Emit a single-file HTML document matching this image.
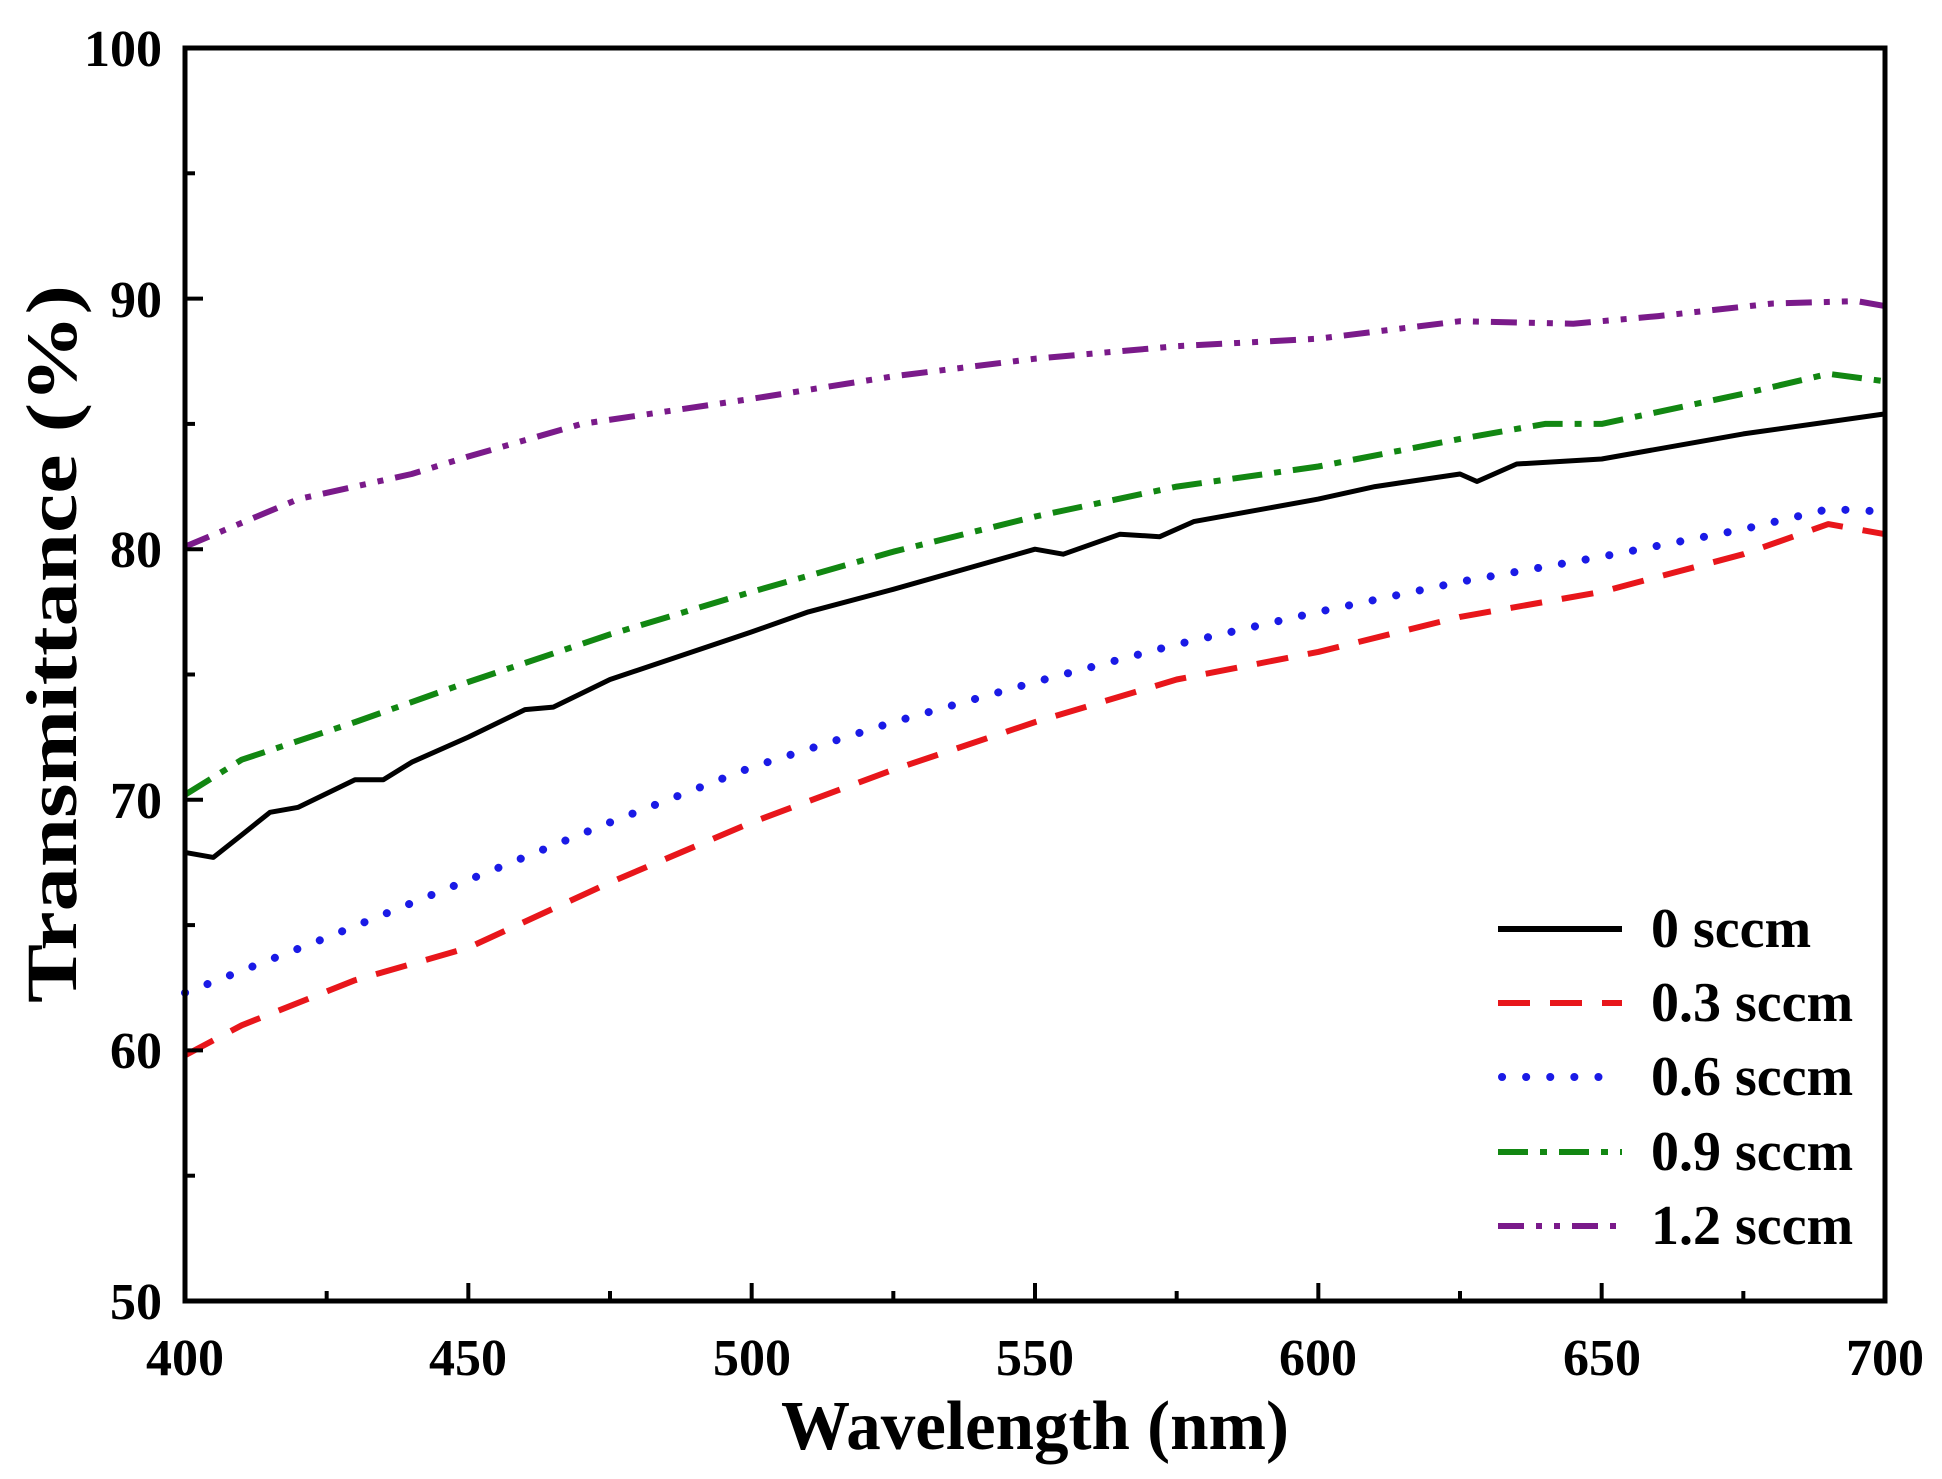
<!DOCTYPE html>
<html><head><meta charset="utf-8"><style>
html,body{margin:0;padding:0;background:#fff;}
svg{display:block;}
text{font-family:"Liberation Serif",serif;font-weight:bold;fill:#000;}
</style></head><body>
<svg id="s" width="1942" height="1479" viewBox="0 0 1942 1479" xmlns="http://www.w3.org/2000/svg">
<g id="curves"></g>
<rect x="185" y="48" width="1700" height="1253" fill="none" stroke="#000" stroke-width="5"/>
<g id="ticks" stroke="#000" stroke-width="4"></g>
<g font-size="52" text-anchor="end">
<text x="162" y="1319">50</text><text x="162" y="1068">60</text><text x="162" y="818">70</text>
<text x="162" y="567">80</text><text x="162" y="317">90</text><text x="162" y="66">100</text>
</g>
<g font-size="52" text-anchor="middle">
<text x="185" y="1375">400</text><text x="468" y="1375">450</text><text x="752" y="1375">500</text>
<text x="1035" y="1375">550</text><text x="1318" y="1375">600</text><text x="1602" y="1375">650</text><text x="1885" y="1375">700</text>
</g>
<text x="781" y="1449" font-size="70" textLength="508" lengthAdjust="spacingAndGlyphs">Wavelength (nm)</text>
<text transform="translate(76,644) rotate(-90)" x="-359" font-size="72" textLength="718" lengthAdjust="spacingAndGlyphs">Transmittance (%)</text>
<g stroke-width="6" fill="none">
<line x1="1498" y1="929" x2="1622" y2="929" stroke="#000"/>
<line x1="1498" y1="1003" x2="1622" y2="1003" stroke="#e8161b" stroke-dasharray="32,20"/>
<line x1="1502" y1="1077" x2="1622" y2="1077" stroke="#1a1ae6" stroke-width="8" stroke-linecap="round" stroke-dasharray="0.1,24"/>
<line x1="1498" y1="1152" x2="1622" y2="1152" stroke="#128712" stroke-dasharray="30,12,7,12"/>
<line x1="1498" y1="1226" x2="1622" y2="1226" stroke="#7a1a8a" stroke-dasharray="26,12,6,12,6,12"/>
</g>
<g font-size="56">
<text x="1651" y="947">0 sccm</text><text x="1651" y="1021">0.3 sccm</text>
<text x="1651" y="1095">0.6 sccm</text><text x="1651" y="1170">0.9 sccm</text>
<text x="1651" y="1244">1.2 sccm</text>
</g>
</svg>
<script>
const X=w=>185+(w-400)*1700/300, Y=v=>1301-(v-50)*25.06;
const ns="http://www.w3.org/2000/svg";
const tk=document.getElementById('ticks');
for(let w=425;w<700;w+=25){const l=document.createElementNS(ns,'line');const x=X(w);l.setAttribute('x1',x);l.setAttribute('x2',x);l.setAttribute('y1',1301);l.setAttribute('y2',1301-(w%50?10:18));tk.appendChild(l);}
for(let v=55;v<100;v+=5){const l=document.createElementNS(ns,'line');const y=Y(v);l.setAttribute('y1',y);l.setAttribute('y2',y);l.setAttribute('x1',185);l.setAttribute('x2',185+(v%10?10:18));tk.appendChild(l);}
const series=[
 {c:"#000",d:"",w:5,p:[[400,67.9],[405,67.7],[410,68.6],[415,69.5],[420,69.7],[430,70.8],[435,70.8],[440,71.5],[450,72.5],[460,73.6],[465,73.7],[475,74.8],[500,76.7],[510,77.5],[525,78.4],[550,80],[555,79.8],[565,80.6],[572,80.5],[578,81.1],[600,82],[610,82.5],[625,83],[628,82.7],[635,83.4],[650,83.6],[675,84.6],[700,85.4]]},
 {c:"#e8161b",d:"32,20",w:6,p:[[400,59.8],[410,61],[430,62.8],[450,64.1],[475,66.7],[500,69.1],[525,71.2],[550,73.1],[575,74.8],[600,75.9],[625,77.3],[650,78.3],[675,79.8],[690,81],[700,80.6]]},
 {c:"#1a1ae6",d:"0.1,24",w:8,cap:"round",p:[[400,62.3],[425,64.5],[450,66.8],[475,69.1],[500,71.3],[525,73.1],[550,74.7],[575,76.2],[600,77.5],[625,78.7],[650,79.7],[675,80.8],[690,81.6],[700,81.5]]},
 {c:"#128712",d:"30,12,7,12",w:6,p:[[400,70.2],[410,71.6],[430,73.1],[450,74.7],[475,76.6],[500,78.3],[525,79.9],[550,81.3],[575,82.5],[600,83.3],[625,84.4],[640,85],[650,85],[675,86.2],[690,87],[700,86.7]]},
 {c:"#7a1a8a",d:"26,12,6,12,6,12",w:6,p:[[400,80.1],[420,82],[440,83],[450,83.7],[470,85],[500,86],[525,86.9],[550,87.6],[575,88.1],[600,88.4],[625,89.1],[645,89],[660,89.3],[680,89.8],[695,89.9],[700,89.7]]}
];
const g=document.getElementById('curves');
for(const s of series){const p=document.createElementNS(ns,'path');
 p.setAttribute('d','M'+s.p.map(q=>X(q[0]).toFixed(1)+','+Y(q[1]).toFixed(1)).join(' L'));
 p.setAttribute('stroke',s.c);p.setAttribute('stroke-width',s.w);p.setAttribute('fill','none');
 if(s.d)p.setAttribute('stroke-dasharray',s.d);if(s.cap)p.setAttribute('stroke-linecap',s.cap);
 p.setAttribute('stroke-linejoin','round');g.appendChild(p);}
</script>
</body></html>
